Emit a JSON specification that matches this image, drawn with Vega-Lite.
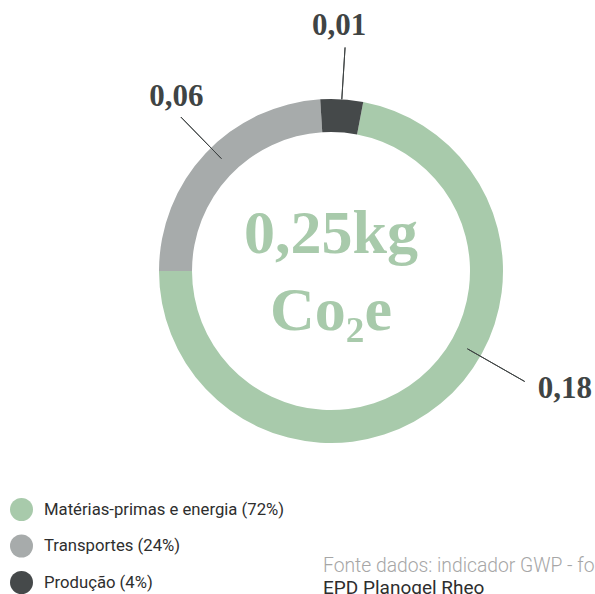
{
  "$schema": "https://vega.github.io/schema/vega-lite/v6.json",
  "width": 528,
  "height": 542,
  "autosize": {"type": "none"},
  "padding": {"left": 67, "top": 0, "right": 0, "bottom": 52},
  "background": "#ffffff",
  "config": {"view": {"stroke": null}},
  "title": {
    "text": "Fonte dados: indicador GWP - fossil",
    "subtitle": "EPD Planogel Rheo",
    "orient": "bottom",
    "anchor": "start",
    "frame": "group",
    "offset": -37,
    "dx": 256,
    "font": "Roboto",
    "fontSize": 19.3,
    "fontWeight": 300,
    "color": "#a6a6a6",
    "subtitleFont": "Roboto",
    "subtitleFontSize": 19,
    "subtitleFontWeight": 400,
    "subtitleColor": "#2e2e2e",
    "subtitlePadding": 3
  },
  "data": {
    "values": [
      {"categoria": "Matérias-primas e energia (72%)", "valor": 0.18, "rotulo": "0,18"},
      {"categoria": "Transportes (24%)", "valor": 0.06, "rotulo": "0,06"},
      {"categoria": "Produção (4%)", "valor": 0.01, "rotulo": "0,01"}
    ]
  },
  "resolve": {"scale": {"theta": "independent"}},
  "layer": [
    {
      "mark": {"type": "arc", "outerRadius": 172, "innerRadius": 139},
      "encoding": {
        "theta": {"field": "valor", "type": "quantitative", "stack": true, "scale": {"range": [0.1885, 6.4717]}},
        "order": {"field": "valor", "type": "quantitative", "sort": "descending"},
        "color": {
          "field": "categoria",
          "type": "nominal",
          "scale": {
            "domain": ["Matérias-primas e energia (72%)", "Transportes (24%)", "Produção (4%)"],
            "range": ["#a8caab", "#a7abab", "#45494a"]
          },
          "legend": {
            "title": null,
            "orient": "none",
            "legendX": -57,
            "legendY": 498,
            "symbolType": "circle",
            "symbolSize": 529,
            "symbolStrokeWidth": 0,
            "symbolOpacity": 1,
            "labelFont": "Roboto",
            "labelFontSize": 16.7,
            "labelColor": "#2e2e2e",
            "labelOffset": 11,
            "rowPadding": 13.5,
            "labelLimit": 400,
            "padding": 0
          }
        }
      }
    },
    {
      "mark": {"type": "arc", "outerRadius": 224, "innerRadius": 172, "padAngle": 3, "fillOpacity": 0, "stroke": "#3f4444", "strokeWidth": 1},
      "encoding": {
        "theta": {"field": "valor", "type": "quantitative", "stack": true, "scale": {"range": [0.1885, 6.4717]}},
        "order": {"field": "valor", "type": "quantitative", "sort": "descending"},
        "strokeOpacity": {"condition": {"test": "datum.rotulo == '0,01'", "value": 1}, "value": 0}
      }
    },
    {
      "mark": {"type": "arc", "outerRadius": 215, "innerRadius": 157, "padAngle": 3, "thetaOffset": 0.044, "fillOpacity": 0, "stroke": "#3f4444", "strokeWidth": 1},
      "encoding": {
        "theta": {"field": "valor", "type": "quantitative", "stack": true, "scale": {"range": [0.1885, 6.4717]}},
        "order": {"field": "valor", "type": "quantitative", "sort": "descending"},
        "strokeOpacity": {"condition": {"test": "datum.rotulo == '0,06'", "value": 1}, "value": 0}
      }
    },
    {
      "mark": {"type": "arc", "outerRadius": 223, "innerRadius": 157, "padAngle": 3, "fillOpacity": 0, "stroke": "#3f4444", "strokeWidth": 1},
      "encoding": {
        "theta": {"field": "valor", "type": "quantitative", "stack": true, "scale": {"range": [0.9582, 4.0998]}},
        "order": {"field": "valor", "type": "quantitative", "sort": "descending"},
        "strokeOpacity": {"condition": {"test": "datum.rotulo == '0,18'", "value": 1}, "value": 0}
      }
    },
    {
      "mark": {"type": "text", "radius": 245, "thetaOffset": -0.03, "font": "Liberation Serif", "fontSize": 31, "fontWeight": "bold", "color": "#3f4444", "align": "center", "baseline": "middle"},
      "encoding": {
        "theta": {"field": "valor", "type": "quantitative", "stack": true, "scale": {"range": [0.1885, 6.4717]}},
        "order": {"field": "valor", "type": "quantitative", "sort": "descending"},
        "text": {"field": "rotulo", "condition": {"test": "datum.rotulo != '0,01'", "value": ""}}
      }
    },
    {
      "mark": {"type": "text", "radius": 233, "thetaOffset": 0.091, "font": "Liberation Serif", "fontSize": 31, "fontWeight": "bold", "color": "#3f4444", "align": "center", "baseline": "middle"},
      "encoding": {
        "theta": {"field": "valor", "type": "quantitative", "stack": true, "scale": {"range": [0.1885, 6.4717]}},
        "order": {"field": "valor", "type": "quantitative", "sort": "descending"},
        "text": {"field": "rotulo", "condition": {"test": "datum.rotulo != '0,06'", "value": ""}}
      }
    },
    {
      "mark": {"type": "text", "radius": 262, "thetaOffset": -0.412, "font": "Liberation Serif", "fontSize": 31, "fontWeight": "bold", "color": "#3f4444", "align": "center", "baseline": "middle"},
      "encoding": {
        "theta": {"field": "valor", "type": "quantitative", "stack": true, "scale": {"range": [0.1885, 6.4717]}},
        "order": {"field": "valor", "type": "quantitative", "sort": "descending"},
        "text": {"field": "rotulo", "condition": {"test": "datum.rotulo != '0,18'", "value": ""}}
      }
    },
    {
      "data": {"values": [{"texto": "0,25kg\nCo₂e"}]},
      "mark": {"type": "text", "lineBreak": "\n", "font": "Liberation Serif", "fontSize": 62, "fontWeight": "bold", "color": "#a8caab", "align": "center", "baseline": "middle", "lineHeight": 77, "dy": -37},
      "encoding": {"text": {"field": "texto", "type": "nominal"}}
    }
  ]
}
